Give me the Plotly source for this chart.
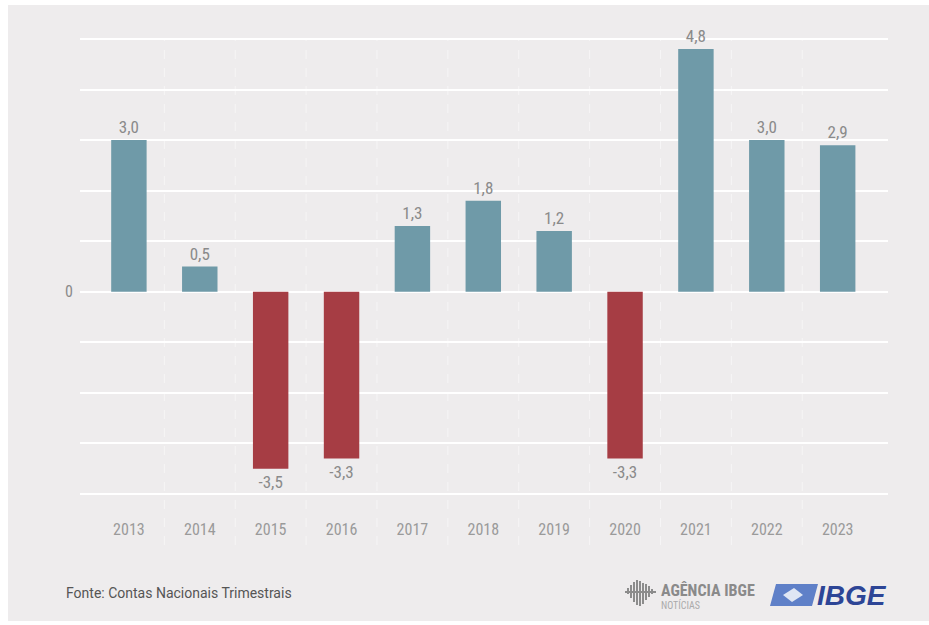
import plotly.graph_objects as go

# Variação anual do PIB (%)
anos = ["2013", "2014", "2015", "2016", "2017", "2018", "2019", "2020", "2021", "2022", "2023"]
variacao = [3.0, 0.5, -3.5, -3.3, 1.3, 1.8, 1.2, -3.3, 4.8, 3.0, 2.9]

AZUL = "#6f9aa8"
VERMELHO = "#a63d44"
FUNDO = "#eeeced"
CINZA_TXT = "#8a8a8a"
CONDENSADA = "Liberation Sans Narrow, Roboto Condensed, Roboto, sans-serif"

W, H = 929, 625
L, R, T, B = 80, 888, 38, 495  # plot area in pixels
Y_MIN, Y_MAX = -4.02, 5.02


def px(x):
    return (x - L) / (R - L)


def py(y):
    return (B - y) / (B - T)


cores = [AZUL if v >= 0 else VERMELHO for v in variacao]
rotulos = [f"{v:.1f}".replace(".", ",") for v in variacao]

fig = go.Figure(
    go.Bar(
        x=anos,
        y=variacao,
        marker=dict(color=cores, line=dict(width=0)),
        text=rotulos,
        textposition="outside",
        textfont=dict(family=CONDENSADA, size=17, color=CINZA_TXT),
        cliponaxis=False,
        hoverinfo="skip",
    )
)

shapes = []
# white frame around the grey card
shapes.append(dict(type="rect", xref="paper", yref="paper",
                   x0=px(8), x1=px(W), y0=py(5), y1=py(H - 4),
                   fillcolor=FUNDO, line=dict(width=0), layer="below"))
# dashed separators between years
for i in range(len(anos) - 1):
    shapes.append(dict(type="line", xref="x", yref="paper",
                       x0=i + 0.5, x1=i + 0.5, y0=py(545), y1=py(39),
                       line=dict(color="rgba(255,255,255,0.5)", width=1, dash="dash"),
                       layer="below"))

# Agência IBGE icon: small vertical strokes
icone = [(628, 588, 594), (631, 585, 598), (634, 582, 602), (637, 580, 605),
         (640, 581, 606), (643, 583, 604), (646, 584, 600), (649, 586, 597), (652, 589, 594)]
for xx, y0, y1 in icone:
    shapes.append(dict(type="line", xref="paper", yref="paper",
                       x0=px(xx), x1=px(xx), y0=py(y0), y1=py(y1),
                       line=dict(color="#8c8c8c", width=2)))
shapes.append(dict(type="line", xref="paper", yref="paper",
                   x0=px(625), x1=px(656), y0=py(592), y1=py(592),
                   line=dict(color="#8c8c8c", width=2)))

# IBGE emblem: blue parallelogram with a white diamond
def caminho(pts):
    return "M " + " L ".join(f"{px(a)},{py(b)}" for a, b in pts) + " Z"

shapes.append(dict(type="path", xref="paper", yref="paper",
                   path=caminho([(776, 584), (818, 584), (812, 606), (770, 606)]),
                   fillcolor="#5f80c8", line=dict(width=0)))
shapes.append(dict(type="path", xref="paper", yref="paper",
                   path=caminho([(794, 588), (803, 595), (792, 602), (783, 595)]),
                   fillcolor="#dfe6f4", line=dict(width=0)))

annotations = [
    dict(xref="paper", yref="paper", x=px(64), y=py(593), xanchor="left", yanchor="middle",
         text="Fonte: Contas Nacionais Trimestrais", showarrow=False,
         font=dict(family="Roboto, sans-serif", size=14, color="#555555")),
    dict(xref="paper", yref="paper", x=px(659), y=py(590), xanchor="left", yanchor="middle",
         text="<b>AGÊNCIA IBGE</b>", showarrow=False,
         font=dict(family=CONDENSADA, size=16, color="#8a8a8a")),
    dict(xref="paper", yref="paper", x=px(659), y=py(605), xanchor="left", yanchor="middle",
         text="NOTÍCIAS", showarrow=False,
         font=dict(family=CONDENSADA, size=10, color="#aaaaaa")),
    dict(xref="paper", yref="paper", x=px(815), y=py(595), xanchor="left", yanchor="middle",
         text="<b><i>IBGE</i></b>", showarrow=False,
         font=dict(family="Liberation Sans, Arial, sans-serif", size=28, color="#2d4596")),
]

fig.update_layout(
    width=W, height=H,
    margin=dict(l=L, r=W - R, t=T, b=H - B, pad=0),
    paper_bgcolor="white",
    plot_bgcolor=FUNDO,
    bargap=0.5,
    showlegend=False,
    shapes=shapes,
    annotations=annotations,
    xaxis=dict(type="category", range=[-0.69, 10.71], showgrid=False, zeroline=False,
               showline=False, ticks="", ticklabelstandoff=23,
               tickfont=dict(family=CONDENSADA, size=16, color="#9a9a9a")),
    yaxis=dict(range=[Y_MIN, Y_MAX], tickvals=list(range(-4, 6)),
               ticktext=["0" if v == 0 else "" for v in range(-4, 6)],
               showgrid=True, gridcolor="white", gridwidth=2,
               zeroline=True, zerolinecolor="white", zerolinewidth=2,
               showline=False, ticks="", ticklabelstandoff=6,
               tickfont=dict(family=CONDENSADA, size=16, color=CINZA_TXT)),
)

fig.write_html("out.html")
